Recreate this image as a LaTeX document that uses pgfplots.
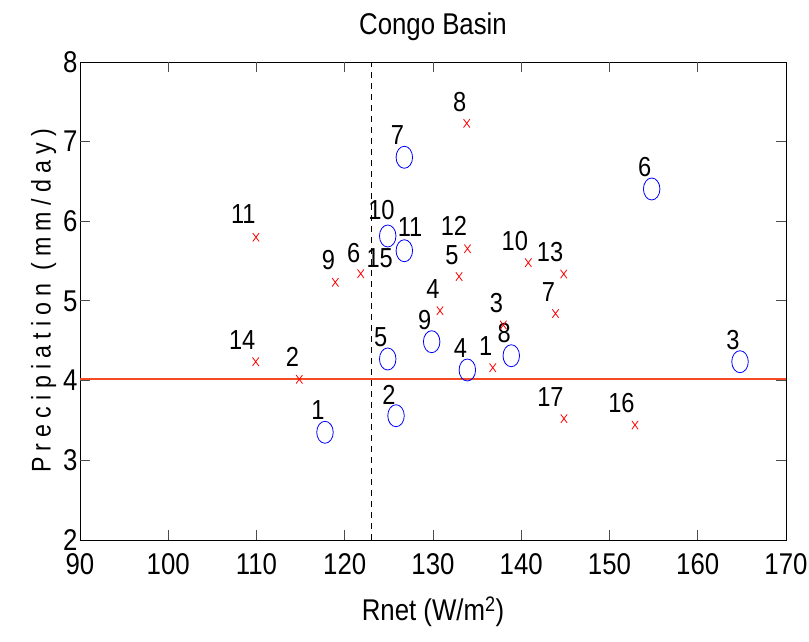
\documentclass[border=0pt]{standalone}
\usepackage{fontspec}
\setmainfont{Liberation Sans}[FakeStretch=0.86]
\usepackage{pgfplots}
\pgfplotsset{compat=1.18}

\definecolor{mblue}{rgb}{0,0,1}
\definecolor{mred}{rgb}{1,0,0}
\definecolor{lineor}{rgb}{0.96,0.29,0.14}
\definecolor{tickc}{rgb}{0.3,0.3,0.3}
\newcommand\bigf{\fontsize{30}{36}\selectfont}
\newcommand\lblf{\fontsize{27.5}{33}\selectfont}

% circles (dx, dy: label offset in pt)
\pgfplotstableread{
x      y     lab dx  dy
117.76 3.352 1   0   12
125.81 3.560 2   0   11
164.79 4.238 3   0   12
133.89 4.134 4   0   12
124.87 4.272 5   0   12
154.78 6.406 6   0   12
126.75 6.804 7   0   12
138.87 4.313 8   0   13
129.85 4.489 9   0   12
124.87 5.816 10  7.3 16
126.75 5.631 11  18.4 14
}\circdata

% crosses
\pgfplotstableread{
x      y     lab dx dy
136.77 4.163 1   0  12
114.85 4.017 2   0  12.5
137.97 4.699 3   0  12
130.79 4.878 4   0  12
132.95 5.307 5   0  11
121.81 5.343 6   0  11
143.88 4.843 7   0  12
133.82 7.230 8   0  11
118.93 5.235 9   0  12
140.80 5.481 10  0  12
109.94 5.800 11  0  13
133.91 5.656 12  0  12.5
144.81 5.339 13  0  12
109.91 4.238 14  0  12
152.89 3.443 16  0  12
144.84 3.523 17  0  12
}\crossdata

\begin{document}
\begin{tikzpicture}
\begin{axis}[
    name=ax,
    scale only axis,
    width=706pt, height=478pt,
    xmin=90, xmax=170, ymin=2, ymax=8,
    xtick={90,100,...,170}, ytick={2,3,...,8},
    major tick length=0pt,
    axis line style={line width=0.8pt},
    font=\bigf,
    /pgf/number format/assume math mode=true,
    xticklabel style={yshift=-10pt},
    yticklabel style={xshift=1pt},
    title={Congo Basin},
    title style={yshift=12pt},
    xlabel={Rnet (W/m\textsuperscript{2})},
    xlabel style={yshift=-15pt},
    ylabel={\fontsize{27}{32}\selectfont\addfontfeature{LetterSpace=23}Precipiation (mm/day)},
    every node near coord/.style={anchor=south east, inner sep=0pt,
        text=black, font=\lblf},
]
    % inward tick marks on all four sides (10 px long)
    \pgfplotsinvokeforeach{100,110,120,130,140,150,160}{
        \addplot[tickc, line width=1pt, forget plot] coordinates {(#1,2) (#1,2.125)};
        \addplot[tickc, line width=1pt, forget plot] coordinates {(#1,8) (#1,7.875)};
    }
    \pgfplotsinvokeforeach{3,4,5,6,7}{
        \addplot[tickc, line width=1pt, forget plot] coordinates {(90,#1) (91.13,#1)};
        \addplot[tickc, line width=1pt, forget plot] coordinates {(170,#1) (168.87,#1)};
    }

    \addplot[black, dash pattern=on 6pt off 5pt, line width=0.8pt]
        coordinates {(123,2) (123,8)};
    \addplot[lineor, line width=1.2pt, mark=none]
        coordinates {(90,4.02) (170,4.02)};

    \addplot[only marks, mark=o, mark size=11pt, mblue,
        mark options={xscale=0.75, line width=0.8pt},
        nodes near coords, point meta=explicit symbolic,
        visualization depends on={\thisrow{dx} \as \dx},
        visualization depends on={\thisrow{dy} \as \dy},
        every node near coord/.append style={xshift=\dx pt, yshift=\dy pt}]
        table[x=x, y=y, meta=lab] {\circdata};

    \addplot[only marks, mark=x, mark size=6pt, mred,
        mark options={xscale=0.75, line width=0.8pt},
        nodes near coords, point meta=explicit symbolic,
        visualization depends on={\thisrow{dx} \as \dx},
        visualization depends on={\thisrow{dy} \as \dy},
        every node near coord/.append style={xshift=\dx pt, yshift=\dy pt}]
        table[x=x, y=y, meta=lab] {\crossdata};

    % label 15 has no visible marker in the reference
    \node[anchor=south east, inner sep=0pt, font=\lblf]
        at (axis cs:125.47,5.41) {15};
\end{axis}
\pgfresetboundingbox
\path ([shift={(-80pt,-101pt)}]ax.south west) rectangle ([shift={(23pt,62pt)}]ax.north east);
\end{tikzpicture}
\end{document}
